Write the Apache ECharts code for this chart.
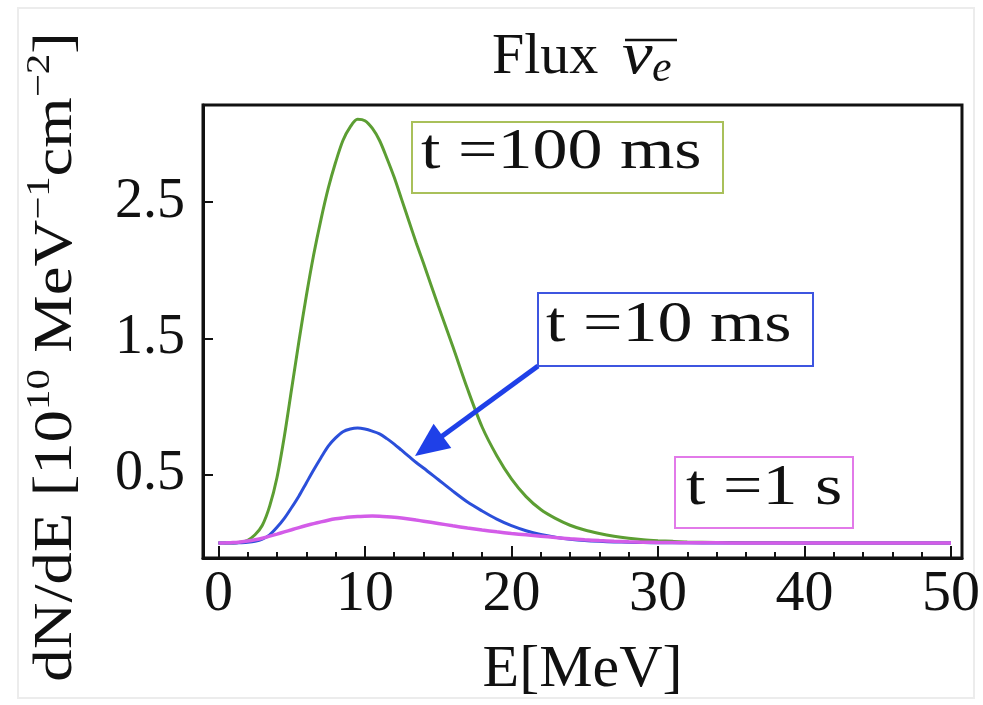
<!DOCTYPE html>
<html>
<head>
<meta charset="utf-8">
<script src="https://cdn.jsdelivr.net/npm/echarts@6/dist/echarts.min.js"></script>
<style>
  html, body { margin: 0; padding: 0; background: #ffffff; }
  #chart { width: 983px; height: 705px; }
</style>
</head>
<body>
<div id="chart"></div>
<script>
// Neutrino energy grid (MeV)
const energy = [0, 0.5, 1, 1.5, 2, 2.5, 3, 3.5, 4, 4.5, 5, 5.5, 6, 6.5, 7, 7.5, 8, 8.5, 9, 9.5,
  10, 10.5, 11, 11.5, 12, 12.5, 13, 13.5, 14,
  15, 16, 17, 18, 19, 20, 21, 22, 23, 24, 25, 26, 27, 28, 29, 30, 31, 32,
  34, 36, 38, 40, 45, 50];

// dN/dE in units of 1e10 MeV^-1 cm^-2
const flux100ms = [0, 0, 0, 0.005, 0.02, 0.06, 0.13, 0.27, 0.48, 0.78, 1.13, 1.48, 1.81, 2.11, 2.37, 2.60, 2.79, 2.95, 3.05, 3.105,
  3.095, 3.04, 2.95, 2.82, 2.68, 2.52, 2.36, 2.20, 2.05,
  1.74, 1.44, 1.13, 0.85, 0.64, 0.47, 0.34, 0.245, 0.18, 0.13, 0.095, 0.07, 0.05, 0.035, 0.024, 0.017, 0.012, 0.008,
  0.004, 0.002, 0.001, 0, 0, 0];

const flux10ms = [0, 0, 0, 0.002, 0.005, 0.012, 0.028, 0.06, 0.115, 0.18, 0.26, 0.345, 0.44, 0.535, 0.625, 0.71, 0.77, 0.815, 0.835, 0.842,
  0.835, 0.82, 0.80, 0.765, 0.725, 0.68, 0.635, 0.59, 0.55,
  0.465, 0.38, 0.30, 0.235, 0.175, 0.127, 0.09, 0.062, 0.042, 0.028, 0.018, 0.012, 0.008, 0.005, 0.003, 0.002, 0.001, 0.001,
  0, 0, 0, 0, 0, 0];

const flux1s = [0, 0.001, 0.003, 0.008, 0.015, 0.024, 0.035, 0.05, 0.065, 0.081, 0.097, 0.113, 0.128, 0.142, 0.155, 0.167, 0.177, 0.184, 0.19, 0.194,
  0.196, 0.197, 0.196, 0.193, 0.189, 0.183, 0.176, 0.168, 0.16,
  0.143, 0.126, 0.11, 0.095, 0.082, 0.07, 0.06, 0.05, 0.04, 0.031, 0.024, 0.018, 0.013, 0.009, 0.006, 0.004, 0.003, 0.002,
  0.001, 0, 0, 0, 0, 0];

// Tick positions
const xTickValues = [0, 10, 20, 30, 40, 50];
const xMinorTickValues = [2, 4, 6, 8, 12, 14, 16, 18, 22, 24, 26, 28, 32, 34, 36, 38, 42, 44, 46, 48];
const yTickValues = [0.5, 1.5, 2.5];

// Curve labels
const label100ms = 't =100 ms';
const label10ms = 't =10 ms';
const label1s = 't =1 s';

const serif = 'Liberation Serif';
const ink = '#111111';
const green = '#5c9e33';
const blue = '#2b4fda';
const magenta = '#d35ce8';

const pairs = vals => energy.map((e, i) => [e, vals[i]]);

const chart = echarts.init(document.getElementById('chart'), null, { renderer: 'canvas' });

const boxText = (text, x, y) => ({
  type: 'text', x: x, y: y, scaleX: 1.25, z: 20,
  style: { text: text, fill: ink, font: '56px "Liberation Serif"', textAlign: 'left', textVerticalAlign: 'middle' }
});
const boxRect = (x, y, w, h, color) => ({
  type: 'rect', z: 19,
  shape: { x: x, y: y, width: w, height: h },
  style: { fill: '#ffffff', stroke: color, lineWidth: 2 }
});

// vertical axis title with superscripts, laid out piece by piece
const measureCtx = document.createElement('canvas').getContext('2d');
const mainFont = '54px "Liberation Serif"';
const supFont = '34px "Liberation Serif"';
const yTitleParts = [
  ['dN/dE [10', false], ['10', true], [' MeV', false], ['−1', true],
  ['cm', false], ['−2', true], [']', false]
];
const yTitleWidths = yTitleParts.map(([t, sup]) => {
  measureCtx.font = sup ? supFont : mainFont;
  return measureCtx.measureText(t).width;
});
const yTitleTotal = yTitleWidths.reduce((a, b) => a + b, 0);
let yTitleCursor = -yTitleTotal / 2;
const yTitleChildren = yTitleParts.map(([t, sup], i) => {
  const el = {
    type: 'text', x: yTitleCursor, y: sup ? -17 : 0,
    style: { text: t, fill: ink, font: sup ? supFont : mainFont, textAlign: 'left', textVerticalAlign: 'middle' }
  };
  yTitleCursor += yTitleWidths[i];
  return el;
});

// arrow from the 10 ms label to its curve
const arrowFrom = [538, 366], arrowTip = [415, 456];
const adx = arrowTip[0] - arrowFrom[0], ady = arrowTip[1] - arrowFrom[1];
const alen = Math.sqrt(adx * adx + ady * ady);
const ux = adx / alen, uy = ady / alen, px = -uy, py = ux;
const headLen = 34, headHalf = 15;
const bx = arrowTip[0] - headLen * ux, by = arrowTip[1] - headLen * uy;

const option = {
  animation: false,
  backgroundColor: '#ffffff',
  grid: {
    left: 203, right: 21, top: 105, bottom: 143,
    show: true, borderColor: ink, borderWidth: 3, backgroundColor: 'transparent'
  },
  xAxis: [{
    type: 'value', min: -1.05, max: 50.75,
    name: 'E[MeV]', nameLocation: 'middle', nameGap: 82,
    nameTextStyle: { fontFamily: serif, fontSize: 60, color: ink },
    axisLine: { show: true, onZero: false, lineStyle: { color: ink, width: 3 } },
    axisTick: { show: true, inside: true, length: 12, customValues: xTickValues, lineStyle: { color: ink, width: 2 } },
    axisLabel: { customValues: xTickValues, fontFamily: serif, fontSize: 58, color: ink, margin: 8 },
    splitLine: { show: false }
  }, {
    type: 'value', min: -1.05, max: 50.75, position: 'bottom', offset: 0,
    axisLine: { show: false, onZero: false },
    axisTick: { show: true, inside: true, length: 6, customValues: xMinorTickValues, lineStyle: { color: ink, width: 2 } },
    axisLabel: { show: false },
    splitLine: { show: false }
  }],
  yAxis: {
    type: 'value', min: -0.11, max: 3.21,
    axisLine: { show: true, onZero: false, lineStyle: { color: ink, width: 3 } },
    axisTick: { show: true, inside: true, length: 10, customValues: yTickValues, lineStyle: { color: ink, width: 2 } },
    axisLabel: { customValues: yTickValues, formatter: v => v.toFixed(1), fontFamily: serif, fontSize: 56, color: ink, margin: 18 },
    splitLine: { show: false }
  },
  series: [
    { name: label100ms, type: 'line', data: pairs(flux100ms), smooth: 0.3, showSymbol: false, lineStyle: { color: green, width: 3 }, z: 3 },
    { name: label10ms, type: 'line', data: pairs(flux10ms), smooth: 0.3, showSymbol: false, lineStyle: { color: blue, width: 3 }, z: 4 },
    { name: label1s, type: 'line', data: pairs(flux1s), smooth: 0.3, showSymbol: false, lineStyle: { color: magenta, width: 3.5 }, z: 5 }
  ],
  graphic: [
    // faint outer border
    { type: 'rect', z: 0, shape: { x: 18, y: 8, width: 956, height: 690 }, style: { fill: 'none', stroke: '#ececec', lineWidth: 2 } },
    // title
    { type: 'text', x: 492, y: 58, style: { text: 'Flux', fill: ink, font: '58px "Liberation Serif"', textAlign: 'left', textVerticalAlign: 'middle' } },
    { type: 'text', x: 622, y: 57, scaleX: 1.15, style: { text: 'ν', fill: ink, font: 'italic 60px "Liberation Serif"', textAlign: 'left', textVerticalAlign: 'middle' } },
    { type: 'text', x: 652, y: 69, style: { text: 'e', fill: ink, font: 'italic 44px "Liberation Serif"', textAlign: 'left', textVerticalAlign: 'middle' } },
    { type: 'line', shape: { x1: 625, y1: 40, x2: 677, y2: 40 }, style: { stroke: ink, lineWidth: 2.5 } },
    // y axis title
    { type: 'group', x: 57, y: 357, rotation: Math.PI / 2, scaleX: 1.2, children: yTitleChildren },
    // curve labels
    boxRect(412, 122, 311, 71, '#a9c05a'),
    boxText(label100ms, 421, 153),
    boxRect(538, 293, 275, 73, '#3d55e0'),
    boxText(label10ms, 546, 326),
    boxRect(675, 457, 178, 71, '#e27ae9'),
    boxText(label1s, 686, 489),
    // arrow
    { type: 'line', z: 18, shape: { x1: arrowFrom[0], y1: arrowFrom[1], x2: bx + 4 * ux, y2: by + 4 * uy }, style: { stroke: '#1f40e8', lineWidth: 5 } },
    { type: 'polygon', z: 18, shape: { points: [arrowTip, [bx + headHalf * px, by + headHalf * py], [bx - headHalf * px, by - headHalf * py]] }, style: { fill: '#1f40e8' } }
  ]
};

chart.setOption(option);
</script>
</body>
</html>
